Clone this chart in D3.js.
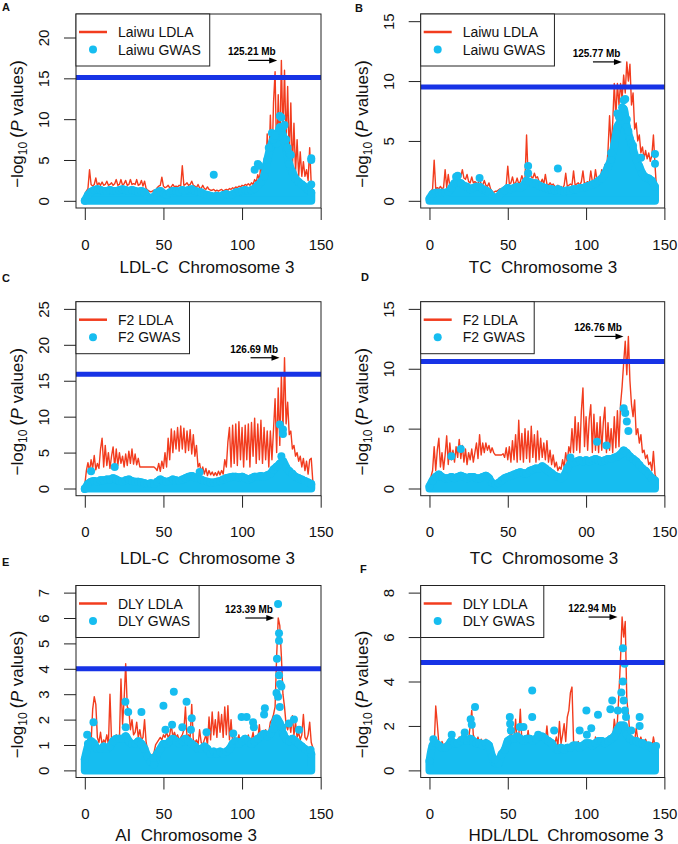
<!DOCTYPE html>
<html>
<head>
<meta charset="utf-8">
<script src="https://cdn.jsdelivr.net/npm/d3@7"></script>
<style>
  body { margin: 0; background: #fff; }
  svg { display: block; font-family: "Liberation Sans", Arial, sans-serif; }
</style>
</head>
<body>
<svg id="chart"></svg>
<script>
// ---- data ----
const panelLetters = ['A', 'B', 'C', 'D', 'E', 'F'];
const traits = ['LDL-C', 'TC', 'LDL-C', 'TC', 'AI', 'HDL/LDL'];
const populations = ['Laiwu', 'Laiwu', 'F2', 'F2', 'DLY', 'DLY'];
const peakMb = [125.21, 125.77, 126.69, 126.76, 123.39, 122.94];
const thresholds = [15.1, 9.5, 15.9, 10.6, 4.0, 4.85];
const yMax = [22, 15, 25, 15, 7, 8];
const yTicks = [
  [0, 5, 10, 15, 20],
  [0, 5, 10, 15],
  [0, 5, 10, 15, 20, 25],
  [0, 5, 10, 15],
  [0, 1, 2, 3, 4, 5, 6, 7],
  [0, 2, 4, 6, 8]
];
const xTicks = [0, 50, 100, 150];
const xTickLabels = [
  ['0', '50', '100', '150'],
  ['0', '50', '100', '150'],
  ['0', '50', '100', '150'],
  ['0', '50', '00', '150'],
  ['0', '50', '100', '150'],
  ['0', '50', '100', '150']
];

// LDLA -log10(P), one value per Mb (0..145)
const ldlaPos = d3.range(0, 146);
const ldlaA = [
  0.8, 1.2, 1.5, 3.8, 2.0, 1.8, 2.0, 2.8, 1.9, 2.2,
  1.9, 2.3, 1.9, 2.0, 2.4, 1.9, 2.0, 2.2, 1.9, 2.1,
  2.6, 1.9, 2.0, 2.6, 1.9, 2.1, 2.5, 1.9, 2.0, 2.6,
  2.0, 2.1, 2.0, 2.6, 1.9, 2.0, 2.5, 1.8, 2.4, 1.5,
  1.3, 1.2, 1.1, 1.2, 1.3, 1.2, 1.6, 1.8, 1.9, 2.9,
  1.8, 1.6, 1.7, 1.9, 1.6, 1.7, 2.0, 1.7, 1.8, 1.7,
  1.9, 1.8, 4.3, 1.9, 2.0, 2.2, 1.9, 2.0, 2.4, 1.9,
  1.8, 1.6, 2.0, 1.6, 1.5, 1.9, 1.5, 1.4, 1.7, 1.4,
  1.3, 1.3, 1.4, 1.2, 1.3, 1.2, 1.3, 1.4, 1.2, 1.3,
  1.4, 1.3, 1.5, 1.4, 1.6, 1.5, 1.7, 1.6, 1.8, 1.7,
  1.9, 1.8, 2.0, 1.9, 2.1, 1.9, 2.2, 2.0, 2.6, 2.3,
  3.2, 2.5, 4.5, 3.0, 5.0, 3.2, 8.2, 4.0, 10.5, 4.0,
  12.0, 15.8, 5.0, 13.0, 6.0, 17.2, 8.0, 16.0, 7.0, 14.0,
  5.0, 12.0, 4.0, 9.5, 3.5, 7.5, 3.0, 6.0, 3.0, 4.8,
  3.0, 3.8, 2.5, 6.5, 2.0, 1.0
];
const ldlaB = [
  0.5, 0.8, 1.0, 3.4, 1.0, 1.1, 1.0, 1.2, 1.0, 1.1,
  2.6, 1.1, 2.2, 1.2, 1.4, 1.6, 1.8, 2.3, 1.9, 2.0,
  2.0, 2.6, 1.9, 1.8, 2.2, 1.6, 1.5, 2.0, 1.5, 1.6,
  1.5, 1.4, 1.8, 1.4, 1.3, 1.7, 1.3, 1.2, 1.5, 1.0,
  0.8, 0.7, 0.8, 0.8, 0.9, 1.0, 1.0, 1.1, 1.2, 1.3,
  2.9, 1.4, 1.5, 2.0, 1.4, 1.5, 1.9, 1.4, 1.6, 2.1,
  1.7, 1.8, 5.5, 1.9, 2.4, 2.0, 1.9, 2.3, 1.9, 2.0,
  1.6, 1.5, 1.8, 1.4, 2.2, 1.4, 1.3, 1.5, 1.3, 1.4,
  1.2, 1.1, 1.3, 1.1, 1.2, 1.0, 1.3, 2.3, 1.2, 1.3,
  1.4, 1.3, 2.5, 1.3, 1.4, 1.5, 1.3, 1.6, 2.5, 1.4,
  1.5, 1.6, 1.4, 2.5, 1.6, 1.5, 2.6, 1.7, 2.0, 1.8,
  2.6, 2.2, 3.0, 2.5, 4.2, 7.1, 4.5, 6.5, 9.8, 7.0,
  9.8, 8.0, 9.8, 8.5, 10.5, 9.0, 11.6, 10.0, 11.4, 8.0,
  9.0, 6.0, 6.5, 5.0, 5.5, 4.0, 4.5, 3.5, 4.2, 3.5,
  4.0, 3.3, 3.8, 5.5, 3.0, 1.0
];
const ldlaC = [
  0.5, 2.5, 3.6, 2.4, 4.0, 2.8, 4.6, 2.6, 3.5, 2.8,
  5.5, 7.0, 3.0, 6.0, 3.2, 5.0, 2.8, 4.5, 5.8, 3.0,
  5.5, 3.2, 5.0, 3.5, 4.5, 3.0, 4.8, 3.2, 5.2, 3.5,
  5.5, 3.4, 4.8, 3.3, 4.2, 3.0, 3.0, 3.0, 3.0, 3.0,
  3.0, 3.0, 3.0, 3.0, 3.0, 2.8, 2.5, 3.5, 2.4, 3.8,
  2.8, 5.0, 3.0, 7.0, 4.0, 8.3, 5.0, 8.0, 5.5, 8.5,
  5.2, 8.7, 5.5, 8.4, 5.0, 8.0, 5.3, 8.2, 4.8, 7.5,
  4.5, 6.0, 3.0, 3.5, 2.2, 3.0, 2.0, 2.8, 1.8, 2.5,
  1.9, 2.3, 1.8, 2.2, 1.8, 2.4, 1.9, 2.5, 2.0, 4.0,
  3.0, 6.5, 8.5, 3.0, 8.8, 3.5, 9.0, 3.2, 9.3, 4.0,
  8.5, 3.0, 8.8, 4.0, 9.0, 3.0, 9.2, 4.5, 9.8, 3.5,
  9.0, 4.0, 9.5, 3.5, 8.5, 4.0, 8.0, 3.0, 8.0, 4.0,
  8.2, 12.5, 5.0, 14.0, 6.0, 16.0, 8.0, 18.2, 9.0, 12.0,
  7.5, 8.0, 5.5, 6.0, 4.5, 5.0, 3.8, 4.5, 3.0, 4.2,
  2.5, 3.8, 2.0, 4.0, 4.2, 1.0
];
const ldlaD = [
  0.5, 1.0, 1.5, 3.5, 1.5, 3.2, 4.2, 1.8, 3.0, 1.6,
  2.8, 4.4, 2.0, 3.8, 2.4, 3.2, 2.2, 3.5, 2.6, 4.1,
  2.5, 3.6, 2.2, 3.3, 2.0, 3.0, 2.4, 3.3, 2.2, 3.0,
  3.8, 2.5, 4.5, 2.8, 3.8, 3.0, 3.8, 3.2, 3.6, 3.0,
  3.4, 3.0, 2.8, 2.8, 2.8, 2.8, 2.8, 2.9, 2.6, 3.4,
  2.4, 3.5, 2.2, 4.0, 2.4, 4.5, 2.2, 5.7, 2.4, 4.6,
  2.2, 5.0, 2.5, 4.8, 2.2, 5.2, 2.6, 4.5, 2.2, 4.8,
  2.4, 4.2, 2.6, 3.8, 2.4, 4.0, 2.2, 3.2, 2.0, 2.8,
  1.8, 2.2, 1.5, 1.8, 1.6, 2.4, 1.8, 3.0, 2.2, 3.5,
  3.0, 5.0, 3.0, 6.0, 3.2, 5.5, 3.0, 6.5, 8.4, 3.5,
  6.0, 3.2, 5.8, 7.0, 3.0, 6.2, 3.2, 5.5, 3.0, 6.0,
  3.2, 5.5, 6.8, 3.0, 5.5, 3.2, 5.0, 3.0, 6.0, 3.4,
  6.5, 3.5, 7.0, 8.5, 10.5, 12.3, 9.5, 12.7, 9.0, 7.0,
  6.0, 7.4, 4.5, 5.0, 3.8, 4.5, 3.0, 3.2, 2.5, 2.8,
  2.0, 2.2, 1.5, 3.1, 1.2, 0.8
];
const ldlaE = [
  0.8, 1.0, 1.2, 1.5, 1.1, 2.4, 2.9, 2.6, 1.3, 1.1,
  1.5, 1.0, 1.2, 1.1, 1.4, 1.0, 3.0, 1.2, 1.3, 1.1,
  1.4, 1.3, 1.2, 3.6, 1.8, 2.8, 4.2, 2.5, 2.4, 1.6,
  2.0, 1.4, 1.5, 1.9, 1.3, 1.6, 1.2, 1.3, 2.0, 1.1,
  0.8, 0.6, 0.5, 0.6, 0.7, 1.0, 1.1, 1.2, 1.3, 1.2,
  1.4, 1.3, 1.5, 1.3, 1.4, 1.8, 1.3, 1.5, 1.3, 1.4,
  1.2, 1.3, 1.4, 1.6, 2.5, 1.3, 1.4, 1.3, 2.6, 1.2,
  1.1, 1.2, 1.0, 1.6, 1.1, 1.0, 1.2, 1.4, 1.0, 2.1,
  1.2, 2.3, 1.4, 2.0, 1.3, 2.3, 1.5, 2.2, 1.3, 2.5,
  1.4, 2.55, 1.2, 2.0, 1.1, 1.3, 1.1, 1.2, 1.4, 1.0,
  1.2, 1.1, 1.3, 1.0, 1.4, 1.1, 1.2, 1.5, 1.1, 1.3,
  1.2, 1.8, 1.1, 1.4, 1.2, 1.6, 1.3, 1.5, 1.9, 2.0,
  2.2, 2.5, 4.5, 6.0, 5.7, 4.5, 3.0, 2.5, 1.8, 1.6,
  1.9, 1.5, 2.15, 1.4, 1.9, 1.3, 1.5, 1.2, 1.4, 2.2,
  1.3, 1.2, 1.4, 1.9, 1.1, 0.9
];
const ldlaF = [
  0.8, 0.9, 1.0, 1.1, 2.9, 2.1, 1.2, 1.0, 1.3, 1.1,
  1.2, 1.0, 1.3, 1.1, 1.2, 1.4, 1.0, 1.3, 1.2, 1.5,
  1.3, 1.6, 1.2, 1.5, 1.3, 1.4, 2.0, 2.7, 1.6, 1.4,
  1.3, 1.5, 1.2, 1.4, 1.3, 1.2, 1.4, 1.3, 1.2, 1.1,
  0.8, 0.5, 0.4, 0.5, 0.6, 0.8, 0.9, 1.0, 1.1, 1.2,
  1.3, 1.2, 2.0, 1.3, 1.4, 2.3, 1.2, 1.5, 2.75, 1.3,
  1.2, 1.4, 1.3, 1.8, 1.2, 1.3, 1.1, 1.5, 1.2, 1.4,
  1.2, 1.1, 1.6, 1.2, 1.3, 2.0, 1.2, 1.4, 1.1, 1.3,
  1.2, 1.5, 1.1, 2.2, 1.2, 1.6, 2.1, 1.3, 2.4, 2.7,
  3.5, 3.75, 1.3, 1.2, 1.1, 1.3, 1.0, 1.2, 1.1, 1.0,
  1.1, 1.0, 1.2, 1.1, 1.3, 1.0, 1.5, 1.1, 1.2, 1.0,
  1.3, 1.2, 1.4, 1.1, 1.5, 1.3, 1.6, 1.4, 2.3, 1.8,
  2.2, 3.5, 5.0, 6.9, 6.0, 6.7, 3.2, 2.5, 1.6, 1.4,
  1.5, 1.3, 1.9, 1.4, 1.3, 1.5, 1.2, 1.3, 1.4, 1.2,
  1.1, 1.2, 1.0, 1.5, 1.1, 0.9
];

// upper edge of the dense GWAS point cloud, every 2 Mb (0..144)
const gwasPos = d3.range(0, 145, 2);
const gwasTopA = [
  0.5, 1.2, 1.6, 1.8, 1.9, 1.8, 1.7, 1.7, 1.8, 1.7,
  1.7, 1.8, 1.9, 1.8, 1.7, 1.8, 1.7, 1.6, 1.7, 1.5,
  1.0, 0.8, 1.0, 1.5, 1.7, 1.4, 1.2, 1.5, 1.7, 1.7,
  1.6, 1.8, 1.7, 1.8, 1.9, 1.7, 1.6, 1.5, 1.3, 1.2,
  1.1, 1.0, 1.1, 1.0, 1.2, 1.3, 1.2, 1.3, 1.5, 1.6,
  1.7, 1.8, 1.7, 1.8, 2.0, 2.4, 2.8, 3.5, 5.5, 7.0,
  8.0, 7.5, 9.5, 8.5, 7.0, 5.0, 4.0, 3.2, 2.8, 2.5,
  2.2, 1.8, 1.5
];
const gwasTopB = [
  0.5, 0.9, 1.0, 1.0, 1.0, 1.0, 1.1, 1.4, 1.8, 1.9,
  1.8, 1.6, 1.5, 1.3, 1.4, 1.5, 1.5, 1.3, 1.2, 1.0,
  0.7, 0.6, 0.7, 1.0, 1.2, 1.4, 1.3, 1.4, 1.5, 1.4,
  1.6, 2.0, 1.9, 1.8, 1.8, 1.6, 1.5, 1.4, 1.3, 1.3,
  1.2, 1.3, 1.2, 1.1, 1.2, 1.2, 1.3, 1.3, 1.4, 1.4,
  1.5, 1.6, 1.7, 1.8, 2.0, 2.2, 2.6, 3.2, 3.8, 5.0,
  6.5, 7.0, 8.0, 6.5, 5.5, 4.6, 3.8, 3.2, 2.6, 2.3,
  2.2, 2.0, 1.5
];
const gwasTopC = [
  0.5, 1.2, 1.5, 1.6, 1.5, 1.7, 1.7, 1.8, 1.8, 2.0,
  1.8, 1.6, 1.5, 1.7, 1.8, 1.6, 1.5, 1.5, 1.4, 1.3,
  1.2, 1.3, 1.2, 1.5, 1.8, 1.6, 1.5, 1.6, 1.8, 1.7,
  1.6, 1.8, 2.0, 2.2, 2.3, 2.1, 2.0, 1.8, 1.6, 1.5,
  1.4, 1.4, 1.5, 1.6, 1.8, 2.0, 2.1, 2.2, 2.2, 2.1,
  2.2, 2.0, 1.8, 2.0, 2.2, 2.2, 2.3, 2.2, 2.4, 2.6,
  3.2, 3.6, 4.0, 4.4, 3.5, 3.0, 2.6, 2.2, 2.0, 1.8,
  1.6, 1.4, 1.2
];
const gwasTopD = [
  0.5, 1.0, 1.3, 1.5, 1.3, 1.2, 1.2, 1.3, 1.2, 1.3,
  1.4, 1.3, 1.2, 1.3, 1.3, 1.2, 1.2, 1.3, 1.4, 1.2,
  0.8, 0.7, 0.8, 1.0, 1.2, 1.3, 1.4, 1.5, 1.6, 1.7,
  1.6, 1.6, 1.8, 1.9, 2.0, 2.0, 2.2, 2.0, 1.8, 1.6,
  1.4, 1.3, 1.2, 1.4, 2.0, 2.4, 2.5, 2.6, 2.7, 2.6,
  2.7, 2.6, 2.7, 2.8, 2.7, 2.6, 2.7, 2.8, 2.8, 2.9,
  3.0, 3.2, 3.5, 3.3, 3.0, 2.8, 2.6, 2.3, 2.0, 1.8,
  1.5, 1.2, 1.0
];
const gwasTopE = [
  0.6, 1.1, 1.3, 1.2, 1.0, 1.0, 1.1, 1.0, 1.1, 1.3,
  1.4, 1.4, 1.4, 1.5, 1.3, 1.2, 1.2, 1.3, 1.2, 1.0,
  0.7, 0.5, 0.4, 0.8, 1.0, 1.2, 1.2, 1.3, 1.4, 1.3,
  1.2, 1.3, 1.4, 1.3, 1.2, 1.1, 1.0, 1.0, 1.1, 1.0,
  0.8, 0.9, 0.8, 0.9, 0.8, 0.9, 1.0, 1.2, 1.3, 1.2,
  1.3, 1.4, 1.3, 1.2, 1.3, 1.4, 1.5, 1.6, 1.5, 1.6,
  1.8, 2.2, 2.0, 1.6, 1.4, 1.3, 1.4, 1.3, 1.2, 1.1,
  1.0, 0.9, 0.8
];
const gwasTopF = [
  0.6, 1.3, 1.4, 1.3, 1.2, 1.2, 1.3, 1.5, 1.4, 1.4,
  1.5, 1.6, 1.5, 1.6, 1.5, 1.4, 1.4, 1.3, 1.4, 1.3,
  0.8, 0.5, 0.5, 0.9, 1.1, 1.5, 1.6, 1.6, 1.7, 1.6,
  1.5, 1.6, 1.6, 1.5, 1.6, 1.7, 1.7, 1.6, 1.5, 1.4,
  1.2, 1.1, 1.2, 1.1, 1.2, 1.2, 1.3, 1.3, 1.2, 1.3,
  1.4, 1.4, 1.3, 1.4, 1.5, 1.5, 1.4, 1.5, 1.6, 1.7,
  2.0, 2.2, 2.2, 1.8, 1.6, 1.5, 1.5, 1.4, 1.4, 1.3,
  1.3, 1.2, 1.1
];

// GWAS SNPs standing out of the cloud: [Mb, -log10 P]
const gwasHitsA = [
  [82, 3.2], [108, 3.8], [110, 4.5], [111, 4.3], [117, 6.5], [119, 8.3],
  [120, 7.5], [121, 8.0], [124, 10.4], [125, 10.2], [126, 9.0], [127, 9.3],
  [128, 7.5], [129, 6.5], [130, 5.8], [131, 5.6], [144, 5.0], [144, 5.2], [144, 2.0]
];
const gwasHitsB = [
  [17, 2.0], [18, 2.1], [32, 1.9], [63, 2.9], [63, 2.3], [82, 2.7], [116, 4.0],
  [120, 7.3], [121, 7.0], [123, 7.8], [124, 8.4], [125, 8.5], [126, 6.8],
  [127, 5.8], [129, 4.8], [130, 4.6], [135, 3.6], [144, 3.9], [144, 3.1]
];
const gwasHitsC = [
  [4, 2.4], [19, 3.0], [73, 2.3], [124, 8.9], [126, 8.2], [126, 7.6], [125, 4.5]
];
const gwasHitsD = [
  [14, 2.7], [20, 3.3], [90, 2.6], [107, 3.9], [113, 3.6],
  [124, 6.7], [125, 6.3], [126, 5.6], [127, 4.8]
];
const gwasHitsE = [
  [1.5, 1.4], [2, 1.05], [5.5, 1.9], [25.8, 2.7], [27.6, 2.3], [26, 1.7], [36, 2.3],
  [43.5, 0.5], [50, 2.55], [51.3, 1.6], [56.6, 3.1], [55.5, 1.8], [62, 1.7],
  [64.7, 2.7], [68, 2.05], [67.5, 1.6], [77.4, 1.5], [94.4, 1.45], [99.7, 2.1],
  [102.9, 2.1], [107, 1.9], [107.5, 1.7], [114.5, 2.45], [114, 2.2],
  [122.9, 6.55], [123.5, 5.4], [123.5, 5.1], [122.2, 4.4], [123.5, 3.75],
  [124.1, 3.4], [125, 3.3], [121.9, 3.05], [122.9, 2.9], [124, 2.5],
  [125.5, 1.7], [126.6, 1.4], [129.8, 1.85], [133, 2.0], [136.2, 1.6], [143.6, 0.8]
];
const gwasHitsF = [
  [2.5, 1.4], [14.2, 1.6], [22.5, 1.7], [26.3, 2.3], [27, 2.05], [29.1, 2.85],
  [41.8, 0.5], [51.3, 2.4], [51.5, 2.1], [52, 1.8], [57.7, 1.95], [60, 1.95],
  [65.6, 3.6], [65.6, 2.4], [69.4, 1.6], [79.6, 1.8], [95.9, 1.8], [100.2, 2.7],
  [100.5, 1.6], [103.3, 1.9], [107.6, 2.5], [116.7, 3.15], [115.5, 2.75],
  [120.3, 2.7], [123.5, 5.5], [124.6, 4.8], [123.5, 4.0], [122.5, 3.5],
  [124, 3.15], [124.8, 2.7], [125.5, 2.4], [128.8, 1.8], [134.2, 2.4],
  [134.2, 2.0], [144.7, 1.1]
];

const ldla = [ldlaA, ldlaB, ldlaC, ldlaD, ldlaE, ldlaF];
const gwasTop = [gwasTopA, gwasTopB, gwasTopC, gwasTopD, gwasTopE, gwasTopF];
const gwasHits = [gwasHitsA, gwasHitsB, gwasHitsC, gwasHitsD, gwasHitsE, gwasHitsF];

// ---- layout ----
const width = 678;
const height = 844;
const boxes = [
  { x: 76, y: 14, w: 245, h: 194 },
  { x: 420.7, y: 14, w: 244, h: 194 },
  { x: 76, y: 301.7, w: 245, h: 194 },
  { x: 420.7, y: 301.7, w: 244, h: 194 },
  { x: 76, y: 585.5, w: 245, h: 192 },
  { x: 420.7, y: 585.5, w: 244, h: 192 }
];
const letterPos = [[2, 11], [355, 12], [2, 282], [361, 281], [2, 566], [360, 573]];
const titleCenter = [207, 543, 207.5, 544, 186, 566];
const titleBase = [273, 273, 564, 564, 841, 841];

const red = '#f23c1e';
const sky = '#16bdf0';
const blue = '#1733e6';
const r = 4;

const svg = d3.select('#chart')
  .attr('width', width)
  .attr('height', height);

svg.append('defs').selectAll('clipPath')
  .data(boxes)
  .enter()
  .append('clipPath')
  .attr('id', (d, i) => 'clip' + i)
  .append('rect')
  .attr('x', d => d.x)
  .attr('y', d => d.y)
  .attr('width', d => d.w)
  .attr('height', d => d.h);

boxes.forEach((b, i) => {
  const x = d3.scaleLinear()
    .domain([-5.6, 150.2])
    .range([b.x, b.x + b.w]);
  const y = d3.scaleLinear()
    .domain([-0.04 * yMax[i], 1.04 * yMax[i]])
    .range([b.y + b.h, b.y]);

  const g = svg.append('g');
  const plot = g.append('g').attr('clip-path', `url(#clip${i})`);

  // LDLA line
  const line = d3.line()
    .x((d, j) => x(ldlaPos[j]))
    .y(d => y(d));
  plot.append('path')
    .datum(ldla[i])
    .attr('d', line)
    .attr('fill', 'none')
    .attr('stroke', red)
    .attr('stroke-width', 1.4)
    .attr('stroke-linejoin', 'round');

  // GWAS dense cloud: upper edge is the value, dots round it off
  const area = d3.area()
    .x((d, j) => x(gwasPos[j]))
    .y0(y(0))
    .y1(d => y(d) + r)
    .curve(d3.curveMonotoneX);
  plot.append('path')
    .datum(gwasTop[i])
    .attr('d', area)
    .attr('fill', sky)
    .attr('stroke', sky)
    .attr('stroke-width', 2 * r)
    .attr('stroke-linejoin', 'round');

  plot.append('g')
    .selectAll('circle')
    .data(gwasTop[i])
    .enter()
    .append('circle')
    .attr('cx', (d, j) => x(gwasPos[j]))
    .attr('cy', d => y(d) + r)
    .attr('r', r)
    .attr('fill', sky);

  plot.append('g')
    .selectAll('circle')
    .data(gwasHits[i])
    .enter()
    .append('circle')
    .attr('cx', d => x(d[0]))
    .attr('cy', d => y(d[1]))
    .attr('r', r)
    .attr('fill', sky);

  // significance threshold
  g.append('line')
    .attr('x1', b.x)
    .attr('x2', b.x + b.w)
    .attr('y1', y(thresholds[i]))
    .attr('y2', y(thresholds[i]))
    .attr('stroke', blue)
    .attr('stroke-width', 5);

  // box
  g.append('rect')
    .attr('x', b.x)
    .attr('y', b.y)
    .attr('width', b.w)
    .attr('height', b.h)
    .attr('fill', 'none')
    .attr('stroke', '#222')
    .attr('stroke-width', 1);

  // x axis
  const xAxis = d3.axisBottom(x)
    .tickValues(xTicks)
    .tickSize(12)
    .tickPadding(19)
    .tickFormat((d, k) => xTickLabels[i][k]);
  const gx = g.append('g')
    .attr('transform', `translate(0, ${b.y + b.h})`)
    .call(xAxis);
  gx.select('.domain').remove();
  gx.selectAll('line').attr('stroke', '#222');
  gx.selectAll('text')
    .attr('font-size', 15)
    .attr('font-family', '"Liberation Sans", Arial, sans-serif')
    .attr('fill', '#111');

  // y axis, labels turned like R's default
  const yAxis = d3.axisLeft(y)
    .tickValues(yTicks[i])
    .tickSize(12);
  const gy = g.append('g')
    .attr('transform', `translate(${b.x}, 0)`)
    .call(yAxis);
  gy.select('.domain').remove();
  gy.selectAll('line').attr('stroke', '#222');
  gy.selectAll('text')
    .attr('transform', 'rotate(-90)')
    .attr('x', 0)
    .attr('y', -26.6)
    .attr('dy', null)
    .attr('text-anchor', 'middle')
    .attr('font-size', 15)
    .attr('font-family', '"Liberation Sans", Arial, sans-serif')
    .attr('fill', '#111');

  // y title
  const yt = g.append('text')
    .attr('transform', `translate(${b.x - 53}, ${b.y + b.h / 2 + 13}) rotate(-90)`)
    .attr('text-anchor', 'middle')
    .attr('font-size', 17)
    .attr('fill', '#111');
  yt.append('tspan').text('\u2212log');
  yt.append('tspan').attr('font-size', 12).attr('dy', 4).text('10');
  yt.append('tspan').attr('dy', -4).attr('font-size', 19).text('\u2009(');
  yt.append('tspan').attr('font-style', 'italic').text('P');
  yt.append('tspan').text(' values');
  yt.append('tspan').attr('font-size', 19).text(')');

  // x title
  g.append('text')
    .attr('x', titleCenter[i])
    .attr('y', titleBase[i])
    .attr('text-anchor', 'middle')
    .attr('font-size', 17)
    .attr('fill', '#111')
    .attr('xml:space', 'preserve')
    .style('white-space', 'pre')
    .text(traits[i] + '  Chromosome 3');

  // panel letter
  g.append('text')
    .attr('x', letterPos[i][0])
    .attr('y', letterPos[i][1])
    .attr('font-size', 11)
    .attr('font-weight', 'bold')
    .attr('fill', '#111')
    .text(panelLetters[i]);

  // legend
  const lg = g.append('g');
  const lbox = lg.append('rect')
    .attr('x', b.x)
    .attr('y', b.y)
    .attr('height', 52)
    .attr('fill', '#fff')
    .attr('stroke', '#222')
    .attr('stroke-width', 1);
  lg.append('line')
    .attr('x1', b.x + 3)
    .attr('x2', b.x + 31)
    .attr('y1', b.y + 18)
    .attr('y2', b.y + 18)
    .attr('stroke', red)
    .attr('stroke-width', 2.5);
  lg.append('circle')
    .attr('cx', b.x + 17)
    .attr('cy', b.y + 35.5)
    .attr('r', r)
    .attr('fill', sky);
  const t1 = lg.append('text')
    .attr('x', b.x + 42)
    .attr('y', b.y + 18 + 5)
    .attr('font-size', 14)
    .attr('fill', '#111')
    .text(populations[i] + ' LDLA');
  const t2 = lg.append('text')
    .attr('x', b.x + 42)
    .attr('y', b.y + 35.5 + 5)
    .attr('font-size', 14)
    .attr('fill', '#111')
    .text(populations[i] + ' GWAS');
  const tw = Math.max(t1.node().getComputedTextLength(), t2.node().getComputedTextLength());
  lbox.attr('width', 42 + tw + 9);

  // peak annotation
  const peakY = y(d3.max(ldla[i]));
  const tip = x(peakMb[i]) - 4.5;
  const tail = tip - 29;
  g.append('line')
    .attr('x1', tail)
    .attr('x2', tip - 6)
    .attr('y1', peakY)
    .attr('y2', peakY)
    .attr('stroke', '#000')
    .attr('stroke-width', 1.2);
  g.append('path')
    .attr('d', `M${tip},${peakY} L${tip - 8},${peakY - 3} L${tip - 8},${peakY + 3} Z`)
    .attr('fill', '#000');
  g.append('text')
    .attr('x', tip - 1.5)
    .attr('y', peakY - 5)
    .attr('text-anchor', 'end')
    .attr('font-size', 10)
    .attr('font-weight', 'bold')
    .attr('fill', '#000')
    .text(peakMb[i].toFixed(2) + ' Mb');
});
</script>
</body>
</html>
